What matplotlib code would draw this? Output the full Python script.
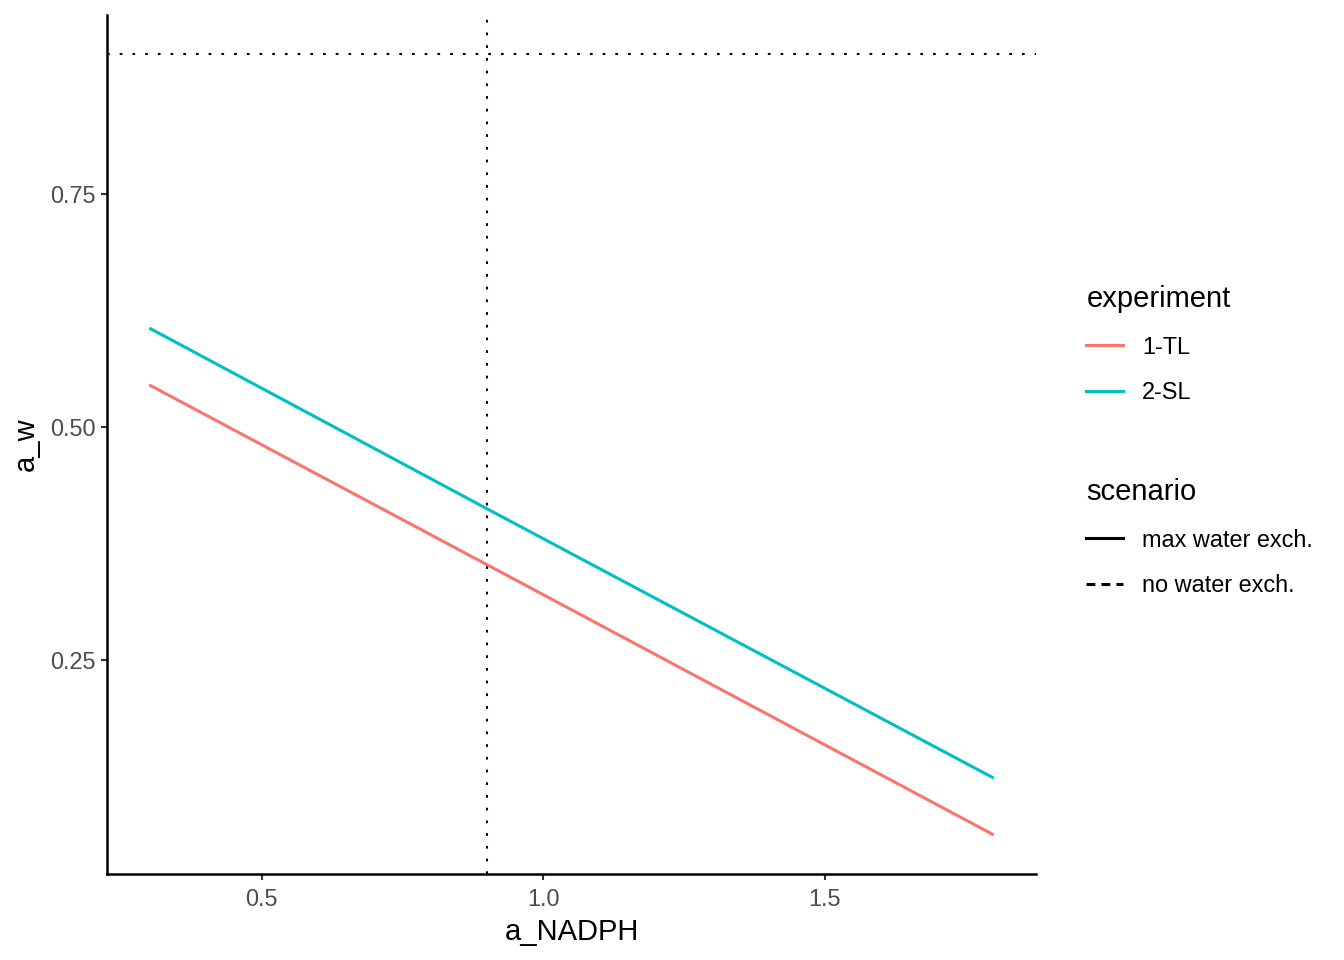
import matplotlib
matplotlib.use("Agg")
import matplotlib.pyplot as plt
from matplotlib.lines import Line2D

plt.rcParams['font.family'] = ['Liberation Sans', 'DejaVu Sans']

# data
a_nadph = [0.3, 0.9, 1.8]
tl_aw = [0.545, 0.352, 0.062]
sl_aw = [0.606, 0.412, 0.123]
ref_x = 0.9
ref_y = 0.9
experiments = ["1-TL", "2-SL"]
scenarios = ["max water exch.", "no water exch."]
colors = {"1-TL": "#F8766D", "2-SL": "#00BFC4"}
xticks = [0.5, 1.0, 1.5]
yticks = [0.25, 0.50, 0.75]

fig = plt.figure(figsize=(13.44, 9.6), dpi=100)
ax = fig.add_axes([107/1344, 1-874/960, (1036-107)/1344, (874-15)/960])

lw = 2.2
dot = (0, (1.3, 4.8))
ax.plot(a_nadph, tl_aw, color=colors["1-TL"], lw=lw, solid_capstyle='butt')
ax.plot(a_nadph, sl_aw, color=colors["2-SL"], lw=lw, solid_capstyle='butt')
ax.axvline(ref_x, color='black', lw=1.5, linestyle=dot)
ax.axhline(ref_y, color='black', lw=1.5, linestyle=dot)

xr = max(a_nadph) - min(a_nadph)
ax.set_xlim(min(a_nadph) - 0.05*xr, max(a_nadph) + 0.05*xr)
ymin = min(tl_aw + sl_aw); ymax = ref_y
yr = ymax - ymin
ax.set_ylim(ymin - 0.05*yr, ymax + 0.05*yr)

ax.set_xticks(xticks)
ax.set_xticklabels(["0.5", "1.0", "1.5"])
ax.set_yticks(yticks)
ax.set_yticklabels(["0.25", "0.50", "0.75"])
for s in ['top', 'right']:
    ax.spines[s].set_visible(False)
for s in ['left', 'bottom']:
    ax.spines[s].set_linewidth(1.8)
    ax.spines[s].set_color('black')
ax.tick_params(axis='both', length=4.5, width=1.5, color='#333333',
               labelcolor='#4D4D4D', labelsize=16.9, pad=3.5)
ax.tick_params(axis='x', pad=5.5)

ax.set_xlabel("a_NADPH", fontsize=21, labelpad=5)
ax.set_ylabel("a_w", fontsize=21, labelpad=8)

h1 = [Line2D([], [], color=colors[e], lw=lw) for e in experiments]
leg1 = fig.legend(h1, experiments, title="experiment", loc='upper left',
                  bbox_to_anchor=(1077/1344, 1-276/960), frameon=False,
                  fontsize=16.9, title_fontsize=21, handlelength=1.57,
                  handletextpad=0.8, labelspacing=0.95, alignment='left',
                  borderaxespad=0)
h2 = [Line2D([], [], color='black', lw=lw),
      Line2D([], [], color='black', lw=lw, linestyle=(0, (2.9, 2.0)))]
leg2 = fig.legend(h2, scenarios, title="scenario", loc='upper left',
                  bbox_to_anchor=(1077/1344, 1-469/960), frameon=False,
                  fontsize=16.9, title_fontsize=21, handlelength=1.57,
                  handletextpad=0.8, labelspacing=0.95, alignment='left',
                  borderaxespad=0)

fig.savefig("out.png", dpi=100)
